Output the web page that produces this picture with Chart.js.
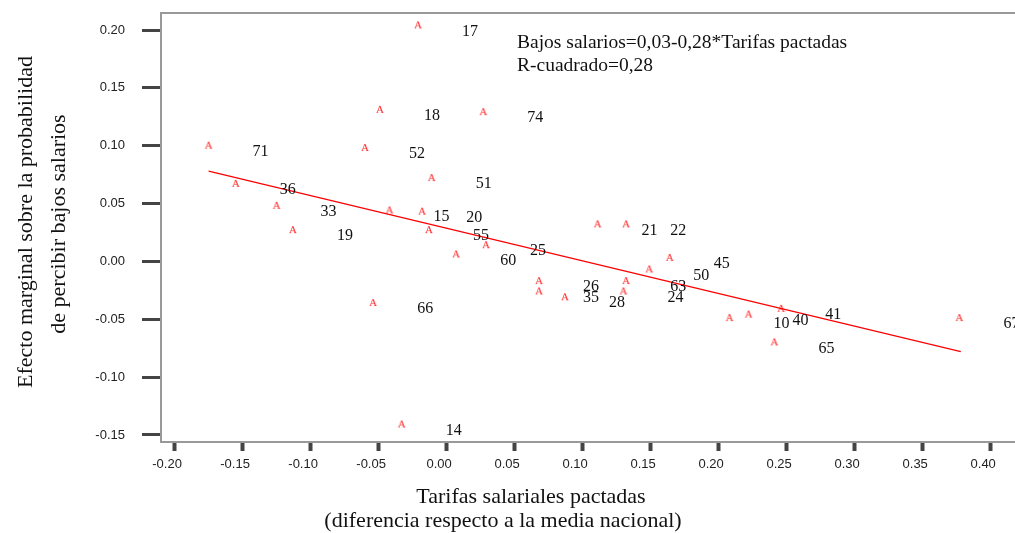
<!DOCTYPE html>
<html>
<head>
<meta charset="utf-8">
<script src="https://cdn.jsdelivr.net/npm/chart.js@4.4.1/dist/chart.umd.min.js"></script>
<style>
  html, body { margin: 0; padding: 0; background: #fff; overflow: hidden; }
  #wrap { width: 1060px; height: 533px; }
</style>
</head>
<body>
<div id="wrap"><canvas id="grafico" width="1060" height="533"></canvas></div>
<script>
// datos (numero de caso, tarifa pactada, efecto marginal)
const caseLabels = ["17", "18", "74", "71", "52", "51", "36", "33", "15", "20",
  "19", "55", "21", "22", "25", "60", "45", "50", "26", "35",
  "28", "63", "24", "66", "10", "40", "41", "65", "67", "14"];
const tarifas = [-0.021, -0.049, 0.027, -0.175, -0.060, -0.011, -0.155, -0.125, -0.042, -0.018,
  -0.113, -0.013, 0.111, 0.132, 0.029, 0.007, 0.164, 0.149, 0.068, 0.068,
  0.087, 0.132, 0.130, -0.054, 0.208, 0.222, 0.246, 0.241, 0.377, -0.033];
const efectos = [0.204, 0.131, 0.129, 0.100, 0.098, 0.072, 0.067, 0.048, 0.044, 0.043,
  0.027, 0.027, 0.032, 0.032, 0.014, 0.006, 0.003, -0.007, -0.017, -0.026,
  -0.031, -0.017, -0.026, -0.036, -0.049, -0.046, -0.041, -0.070, -0.049, -0.141];

// recta de regresion (extremos)
const fitX = [-0.175, 0.378];
const fitY = [0.078, -0.078];

const xTicks = [-0.20, -0.15, -0.10, -0.05, 0.00, 0.05, 0.10, 0.15, 0.20, 0.25, 0.30, 0.35, 0.40];
const yTicks = [-0.15, -0.10, -0.05, 0.00, 0.05, 0.10, 0.15, 0.20];

const ecuacion = "Bajos salarios=0,03-0,28*Tarifas pactadas";
const rCuadrado = "R-cuadrado=0,28";
const tituloY = ["Efecto marginal sobre la probabilidad", "de percibir bajos salarios"];
const tituloX = ["Tarifas salariales pactadas", "(diferencia respecto a la media nacional)"];

const SERIF = '"Liberation Serif", "Times New Roman", serif';
const SANS = '"Liberation Sans", Arial, sans-serif';

// marcador "A" rojo como en SPSS
function makeMarker() {
  const c = document.createElement("canvas");
  c.width = 14;
  c.height = 14;
  const g = c.getContext("2d");
  g.fillStyle = "#ff2020";
  g.font = "11px " + SERIF;
  g.textAlign = "center";
  g.textBaseline = "middle";
  g.fillText("A", 7, 7);
  return c;
}

const puntos = tarifas.map((x, i) => ({ x: x, y: efectos[i] }));
const recta = fitX.map((x, i) => ({ x: x, y: fitY[i] }));

// quitar el relleno que Chart.js deja para las etiquetas de los extremos
function sinRelleno(s) {
  s.paddingTop = 0;
  s.paddingBottom = 0;
  s.paddingLeft = 0;
  s.paddingRight = 0;
}

// textos: etiquetas de caso, ecuacion, titulos y borde superior
const textos = {
  id: "textos",
  afterDatasetsDraw(chart) {
    const ctx = chart.ctx;
    const area = chart.chartArea;
    const meta = chart.getDatasetMeta(1);
    ctx.save();

    // borde superior del marco
    ctx.strokeStyle = "#999";
    ctx.lineWidth = 2;
    ctx.beginPath();
    ctx.moveTo(area.left, area.top);
    ctx.lineTo(area.right + 20, area.top);
    ctx.stroke();

    ctx.fillStyle = "#111";
    ctx.font = "16px " + SERIF;
    ctx.textAlign = "center";
    ctx.textBaseline = "middle";
    meta.data.forEach((pt, i) => {
      ctx.fillText(caseLabels[i], pt.x + 52, pt.y + 6);
    });

    ctx.font = "19.5px " + SERIF;
    ctx.textAlign = "left";
    ctx.fillText(ecuacion, 517, 43);
    ctx.fillText(rCuadrado, 517, 66);

    ctx.font = "22px " + SERIF;
    ctx.textAlign = "center";
    ctx.fillText(tituloX[0], 531, 497);
    ctx.fillText(tituloX[1], 503, 521);

    ctx.translate(26, 222);
    ctx.rotate(-Math.PI / 2);
    ctx.fillText(tituloY[0], 0, 0);
    ctx.fillText(tituloY[1], -2, 33);
    ctx.restore();
  },
};

new Chart(document.getElementById("grafico"), {
  type: "scatter",
  data: {
    datasets: [
      {
        type: "line",
        data: recta,
        borderColor: "#ff0000",
        borderWidth: 1.2,
        pointRadius: 0,
        fill: false,
      },
      {
        data: puntos,
        pointStyle: makeMarker(),
        pointRadius: 7,
      },
    ],
  },
  options: {
    responsive: false,
    animation: false,
    devicePixelRatio: 1,
    layout: { padding: { top: 13, right: 10, left: 0, bottom: 0 } },
    plugins: { legend: { display: false }, tooltip: { enabled: false } },
    scales: {
      x: {
        type: "linear",
        min: -0.21,
        max: 0.4436,
        afterBuildTicks: (s) => { s.ticks = xTicks.map((v) => ({ value: v })); },
        afterFit: (s) => { s.height = 91; sinRelleno(s); },
        ticks: {
          callback: (v) => v.toFixed(2),
          font: { family: SANS, size: 13 },
          color: "#222",
          labelOffset: -7.5,
          padding: 6,
          maxRotation: 0,
          autoSkip: false,
        },
        grid: { drawOnChartArea: false, tickLength: 9, tickWidth: 4, tickColor: "#444" },
        border: { color: "#999", width: 2 },
      },
      y: {
        type: "linear",
        min: -0.1561,
        max: 0.2147,
        afterBuildTicks: (s) => { s.ticks = yTicks.map((v) => ({ value: v })); },
        afterFit: (s) => { s.width = 161; sinRelleno(s); },
        ticks: {
          callback: (v) => v.toFixed(2),
          font: { family: SANS, size: 13 },
          color: "#222",
          padding: 17,
          autoSkip: false,
        },
        grid: { drawOnChartArea: false, tickLength: 19, tickWidth: 3, tickColor: "#444" },
        border: { color: "#999", width: 2 },
      },
    },
  },
  plugins: [textos],
});
</script>
</body>
</html>
